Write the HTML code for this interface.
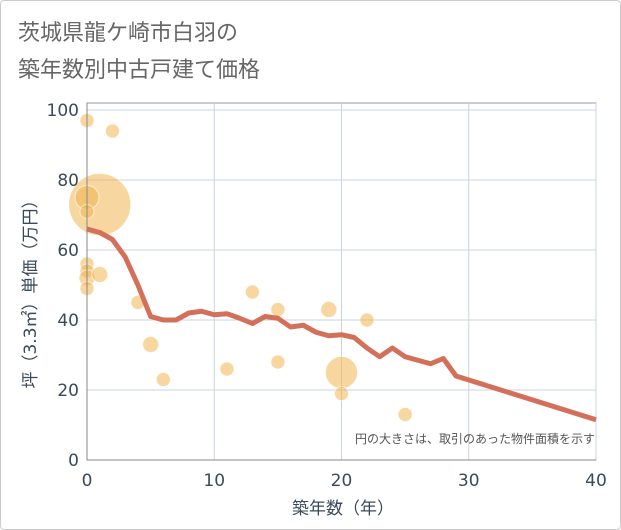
<!DOCTYPE html>
<html><head><meta charset="utf-8"><style>
body{margin:0;background:#fff;font-family:"DejaVu Sans","Noto Sans CJK JP",sans-serif}
#wrap{width:619px;height:528px;border:1px solid #ccc;position:relative;border-radius:4px}
</style></head><body>
<div id="wrap">
<svg id="svg" width="621" height="530" style="position:absolute;left:-1px;top:-1px">
<text x="18" y="40" font-size="22" fill="#666">茨城県龍ケ崎市白羽の</text>
<text x="18" y="77" font-size="22" fill="#666">築年数別中古戸建て価格</text>
<g id="grid"></g><g id="bubbles"></g><g id="line"></g><g id="axes"></g>
<text x="595" y="443" font-size="12" fill="#555" text-anchor="end">円の大きさは、取引のあった物件面積を示す</text>
<text x="343" y="514" font-size="17" fill="#3a4a5a" text-anchor="middle">築年数（年）</text>
<text transform="translate(36,290) rotate(-90)" font-size="17" fill="#3a4a5a" text-anchor="middle">坪（3.3㎡）単価（万円）</text>
</svg></div>
<script>
const xTicks=[0,10,20,30,40];
const yTicks=[0,20,40,60,80,100];
const lineYears=[0,1,2,3,4,5,6,7,8,9,10,11,12,13,14,15,16,17,18,19,20,21,22,23,24,25,26,27,28,29,40];
const lineValues=[66,65,63,58,50,41,40,40,42,42.5,41.5,41.8,40.5,39,41,40.5,38,38.5,36.5,35.5,35.8,35,32,29.5,32,29.5,28.5,27.5,29,24,11.5];
const bubbleYears=[1,0,0,0,2,0,0,0,0,1,4,5,6,11,13,15,15,19,20,20,22,25];
const bubbleValues=[73,97,75,71,94,56,54,52,49,53,45,33,23,26,48,43,28,43,25,19,40,13];
const bubbleSizes=[31,7,12,7,7,7,7,8,7,8,7,8,7,7,7,7,7,8,16,7,7,7];
const X=v=>87+v*(596-87)/40, Y=v=>460-v*3.5;
const NS='http://www.w3.org/2000/svg';
function mk(t,a,p){const e=document.createElementNS(NS,t);for(const k in a)e.setAttribute(k,a[k]);p.appendChild(e);return e;}
const g=document.getElementById('grid'),ax=document.getElementById('axes');
mk('rect',{x:87,y:103,width:509,height:357,fill:'none',stroke:'#999'},g);
xTicks.forEach(t=>{const l=mk('line',{x1:X(t),x2:X(t),y1:103,y2:460,stroke:'#c8d4e0'},g);

const tx=mk('text',{x:X(t),y:486,'font-size':17,fill:'#3a4a5a','text-anchor':'middle'},ax);tx.textContent=t;
});
yTicks.forEach(t=>{const l=mk('line',{x1:87,x2:596,y1:Y(t),y2:Y(t),stroke:'#c8d4e0'},g);

const tx=mk('text',{x:79,y:Y(t)+6,'font-size':17,fill:'#3a4a5a','text-anchor':'end'},ax);tx.textContent=t;
});
mk('line',{x1:87,x2:87,y1:103,y2:460,stroke:'#888'},ax);
mk('line',{x1:87,x2:596,y1:460,y2:460,stroke:'#888'},ax);
const b=document.getElementById('bubbles');
bubbleYears.forEach((yr,i)=>{const c=mk('circle',{cx:X(yr),cy:Y(bubbleValues[i]),r:bubbleSizes[i],fill:'rgba(240,180,80,0.55)',stroke:'rgba(255,255,255,0.6)'},b);
});
const pl=mk('polyline',{points:lineYears.map((y,i)=>X(y)+','+Y(lineValues[i])).join(' '),fill:'none',stroke:'#d4705a','stroke-width':5,'stroke-linejoin':'round'},document.getElementById('line'));

</script></body></html>
